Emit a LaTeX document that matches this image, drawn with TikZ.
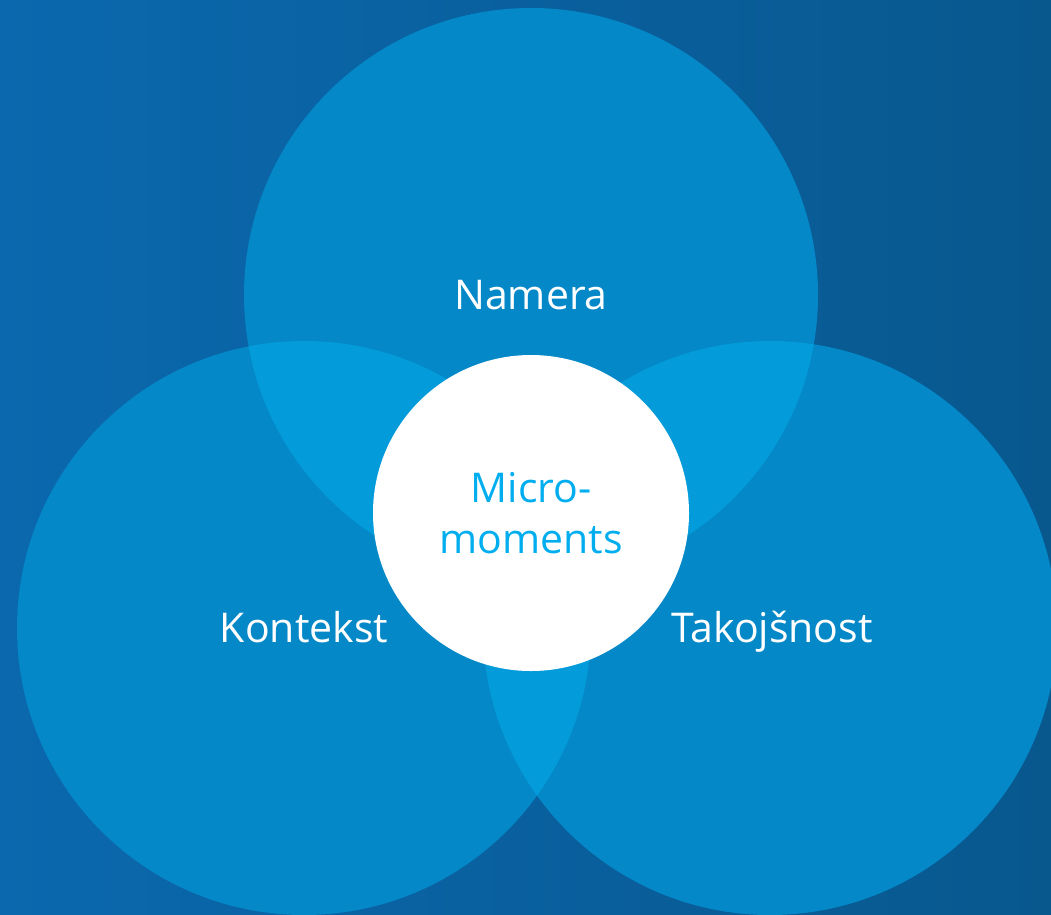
\documentclass[tikz,border=0pt]{standalone}
\usepackage{fontspec}
\setmainfont{Open Sans}
\definecolor{bgA}{HTML}{0B68AE}
\definecolor{bgB}{HTML}{08588E}
\definecolor{circ}{HTML}{0488C8}
\definecolor{lens}{HTML}{039BDA}
\definecolor{micro}{HTML}{00AEEF}
\tikzset{
  lbl/.style={text=white, font=\fontsize{41}{52}\selectfont, inner sep=0pt, anchor=base},
  mlbl/.style={text=micro, font=\fontsize{41}{52}\selectfont, inner sep=0pt, anchor=base},
}
\begin{document}
\begin{tikzpicture}[x=1pt,y=-1pt]
\useasboundingbox (0,0) rectangle (1051,914);
\shade[shading angle=120, left color=bgA, right color=bgB] (0,0) rectangle (1051,914);
\clip (0,0) rectangle (1051,914);
\coordinate (ct) at (531,295);
\coordinate (cl) at (304,628);
\coordinate (cr) at (770,628);
\fill[circ] (ct) circle (287);
\fill[circ] (cl) circle (287);
\fill[circ] (cr) circle (287);
\begin{scope}
  \clip (ct) circle (287);
  \fill[lens] (cl) circle (287);
  \fill[lens] (cr) circle (287);
\end{scope}
\begin{scope}
  \clip (cl) circle (287);
  \fill[lens] (cr) circle (287);
\end{scope}
\node[circle, fill=white, minimum size=316pt, inner sep=0pt] (mid) at (531,513) {};
\node[lbl] (namera) at (531,309) {Namera};
\node[lbl] (kontekst) at (304,642) {Kontekst};
\node[lbl] (tako) at (772,642) {Takojšnost};
\node[mlbl] (micro1) at (531,502) {Micro-};
\node[mlbl] (micro2) at (531,553) {moments};
\end{tikzpicture}
\end{document}
